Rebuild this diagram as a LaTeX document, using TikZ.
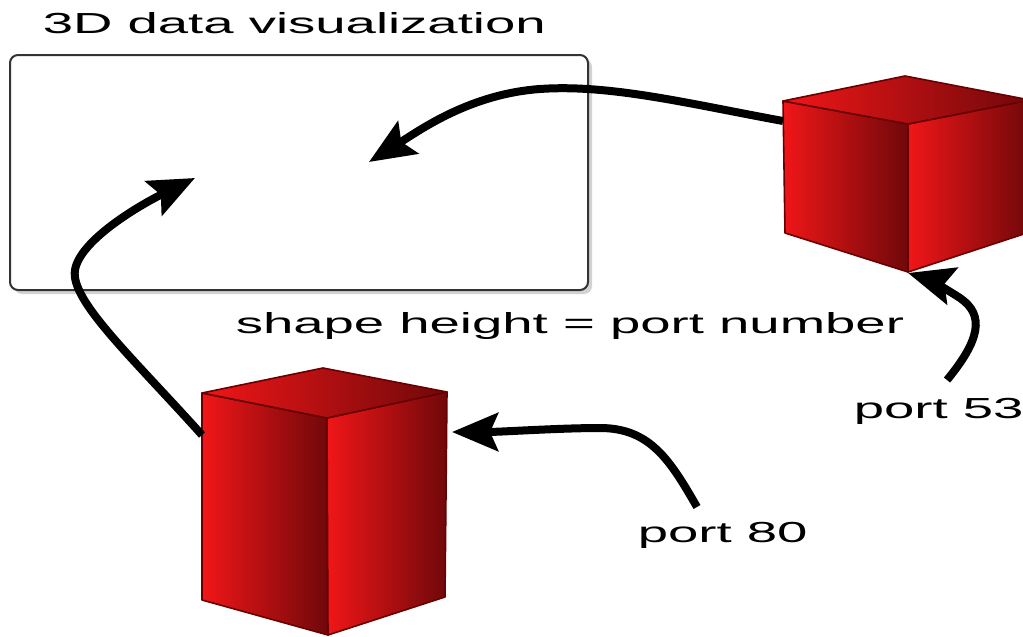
\documentclass[tikz,border=0pt]{standalone}
\usepackage{fontspec}
\setmainfont{Liberation Sans}
\usetikzlibrary{arrows.meta,shadows}

\definecolor{cubelight}{RGB}{240,22,24}
\definecolor{cubedark}{RGB}{112,8,10}
\definecolor{cubeedge}{RGB}{105,0,0}

\tikzset{
  face/.style={left color=cubelight, right color=cubedark, draw=cubeedge, line width=0.8pt, line join=round},
  flow/.style={line width=4pt, -{Stealth[length=23pt,width=19pt,inset=4pt]}},
  lbl/.style={font=\fontsize{14.5}{17}\selectfont, xscale=1.88, inner sep=0pt, anchor=base west},
}

\begin{document}
\begin{tikzpicture}[x=0.5pt, y=-0.5pt]
                \clip (0,0) rectangle (1023,637);
                \fill[white] (0,0) rectangle (1023,637);

                % display area
                \node[lbl] (title) at (42,33) {3D data visualization};
                \draw[line width=1pt, black!80, rounded corners=4pt, fill=white,
                      drop shadow={opacity=0.35, shadow xshift=2pt, shadow yshift=-2pt}]
                      (10,55) rectangle (588,290);
                \coordinate (vizA) at (369,162);
                \coordinate (vizB) at (195,178);

                % port 53 box
                \draw[face] (783,101) -- (908,124) -- (908,272) -- (785,233) -- cycle;
                \draw[face] (908,124) -- (1030,100) -- (1030,232) -- (908,272) -- cycle;
                \draw[face] (783,101) -- (905,76) -- (1030,100) -- (908,124) -- cycle;
                \coordinate (dnsface) at (783,121);
                \coordinate (dnsbottom) at (908,273);

                % port 80 box
                \draw[face] (202,393) -- (327,418) -- (328,635) -- (202,600) -- cycle;
                \draw[face] (327,418) -- (447,392) -- (445,597) -- (328,635) -- cycle;
                \draw[face] (202,393) -- (323,368) -- (447,392) -- (327,418) -- cycle;
                \coordinate (webface) at (202,435);
                \coordinate (webright) at (452,432);

                % labels
                \node[lbl] (rule) at (235,333) {shape height = port number};
                \node[lbl] (p53) at (853,418) {port 53};
                \node[lbl] (p80) at (637,542) {port 80};
                \coordinate (p53tail) at (947,380);
                \coordinate (p80tail) at (697,507);

                % flows
                \draw[flow] (dnsface) .. controls (690,104) and (610,84) .. (540,89)
                            .. controls (470,94) and (420,130) .. (vizA);
                \draw[flow] (webface) .. controls (130,355) and (70,300) .. (75,270)
                            .. controls (80,240) and (140,205) .. (vizB);
                \draw[flow] (p80tail) .. controls (670,460) and (650,428) .. (600,428)
                            .. controls (560,428) and (500,432) .. (webright);
                \draw[flow] (p53tail) .. controls (980,340) and (985,315) .. (960,298)
                            .. controls (940,285) and (925,278) .. (dnsbottom);
            \end{tikzpicture}
\end{document}
